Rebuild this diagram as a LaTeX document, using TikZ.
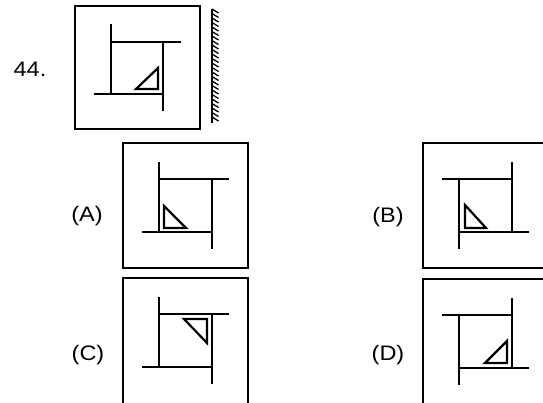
\documentclass[tikz,border=0pt]{standalone}
\usepackage{fontspec}
\setmainfont{Liberation Sans}
\begin{document}
\begin{tikzpicture}[x=1pt,y=-1pt]
		\tikzset{frame/.style = {draw, line width=2pt},
			bar/.style = {line width=2pt},
			tri/.style = {draw, line width=2.2pt, line join=miter},
			optlabel/.style = {font=\fontsize{21}{24}\selectfont, inner sep=0pt, xscale=1.12, transform shape}}

		\clip (0,0) rectangle (543,402);

		\node[optlabel] (q) at (30,69) {44.};
		\node[optlabel] (a) at (87,216) {(A)};
		\node[optlabel] (b) at (388,217) {(B)};
		\node[optlabel] (c) at (88,355) {(C)};
		\node[optlabel] (d) at (388,355) {(D)};

		% question figure
		\begin{scope}[shift={(75,6)}]
			\draw[frame] (0,0) rectangle (125,123);
			\draw[bar] (36,18)--(36,88);
			\draw[bar] (36,36)--(106,36);
			\draw[bar] (88,36)--(88,105);
			\draw[bar] (19,88)--(88,88);
			\draw[tri] (61,83)--(83,83)--(83,62)--cycle;
		\end{scope}

		% mirror
		\draw[line width=2pt] (212,9)--(212,123);
		\foreach \y in {9,13.5,...,118} {
			\draw[line width=1.3pt] (212,\y)--(218.5,\y+4);
		}

		% (A)
		\begin{scope}[shift={(123,143)}]
			\draw[frame] (0,0) rectangle (125,125);
			\draw[bar] (36,19)--(36,89);
			\draw[bar] (36,36)--(106,36);
			\draw[bar] (89,36)--(89,106);
			\draw[bar] (19,89)--(89,89);
			\draw[tri] (41,85)--(63,85)--(41,63)--cycle;
		\end{scope}

		% (B)
		\begin{scope}[shift={(423,143)}]
			\draw[frame] (0,0) rectangle (125,125);
			\draw[bar] (19,36)--(89,36);
			\draw[bar] (36,36)--(36,106);
			\draw[bar] (89,19)--(89,89);
			\draw[bar] (36,89)--(106,89);
			\draw[tri] (42,85)--(63,85)--(42,62)--cycle;
		\end{scope}

		% (C)
		\begin{scope}[shift={(123,278)}]
			\draw[frame] (0,0) rectangle (125,135);
			\draw[bar] (36,19)--(36,89);
			\draw[bar] (36,36)--(106,36);
			\draw[bar] (89,36)--(89,106);
			\draw[bar] (19,89)--(89,89);
			\draw[tri] (61,41)--(84,41)--(84,65)--cycle;
		\end{scope}

		% (D)
		\begin{scope}[shift={(423,279)}]
			\draw[frame] (0,0) rectangle (125,135);
			\draw[bar] (19,36)--(89,36);
			\draw[bar] (36,36)--(36,106);
			\draw[bar] (89,19)--(89,89);
			\draw[bar] (36,89)--(106,89);
			\draw[tri] (62,84)--(84,84)--(84,62)--cycle;
		\end{scope}

	\end{tikzpicture}
\end{document}
